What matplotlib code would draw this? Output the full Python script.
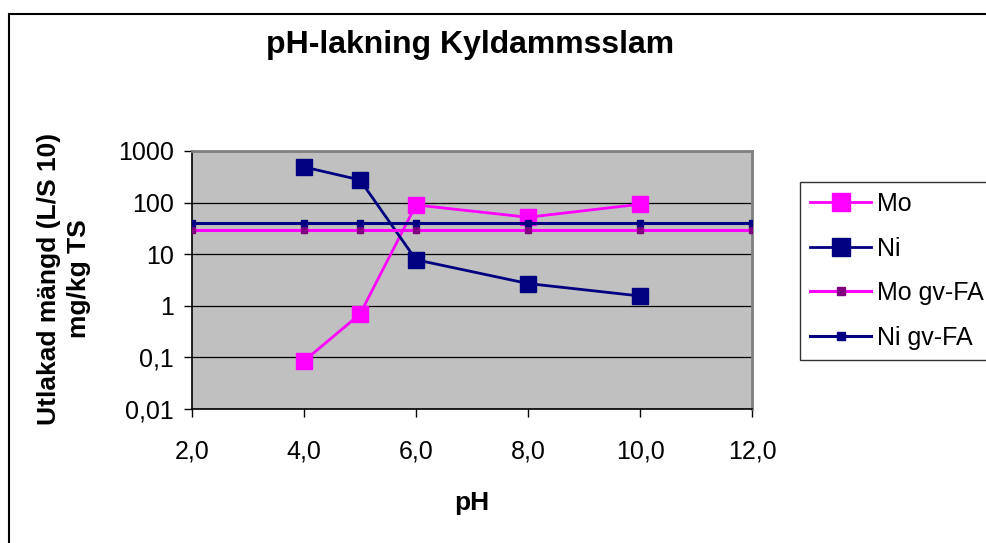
import matplotlib
matplotlib.use("Agg")
import matplotlib.pyplot as plt
from matplotlib.patches import Rectangle
from matplotlib.ticker import FixedLocator, FixedFormatter, NullLocator

plt.rcParams["font.family"] = ["Liberation Sans", "DejaVu Sans"]

# data
ph = [4.0, 5.0, 6.0, 8.0, 10.0]
mo = [0.085, 0.69, 90, 52, 93]
ni = [490, 275, 7.8, 2.7, 1.55]
ph_gv = [2.0, 4.0, 5.0, 6.0, 8.0, 10.0, 12.0]
mo_gv = [30] * len(ph_gv)
ni_gv = [40] * len(ph_gv)

y_ticks = [0.01, 0.1, 1, 10, 100, 1000]
y_labels = ["0,01", "0,1", "1", "10", "100", "1000"]
x_ticks = [2, 4, 6, 8, 10, 12]
x_labels = ["2,0", "4,0", "6,0", "8,0", "10,0", "12,0"]

fig = plt.figure(figsize=(9.86, 5.43), dpi=100)
fig.patch.set_facecolor("white")

# yttre ram runt diagrammet
fig.patches.append(Rectangle((9 / 986, -0.1), 1.2, 1 - 14 / 543 + 0.1,
                             transform=fig.transFigure, fill=False,
                             edgecolor="black", linewidth=1.5))

ax = fig.add_axes([192 / 986, 1 - 409 / 543, 560 / 986, 258 / 543])
ax.set_facecolor("#C0C0C0")

ax.plot(ph, mo, color="#FF00FF", lw=2, marker="s", ms=11,
        markerfacecolor="#FF00FF", markeredgecolor="#FF00FF", label="Mo", zorder=3)
ax.plot(ph, ni, color="#000080", lw=2, marker="s", ms=11,
        markerfacecolor="#000080", markeredgecolor="#000080", label="Ni", zorder=3)
ax.plot(ph_gv, mo_gv, color="#FF00FF", lw=2.2, marker="s", ms=5,
        markerfacecolor="#800080", markeredgecolor="#800080", label="Mo gv-FA", zorder=4)
ax.plot(ph_gv, ni_gv, color="#000080", lw=2.2, marker="s", ms=5,
        markerfacecolor="#000080", markeredgecolor="#000080", label="Ni gv-FA", zorder=4)

ax.set_yscale("log")
ax.set_ylim(0.01, 1000)
ax.set_xlim(2, 12)
ax.yaxis.set_major_locator(FixedLocator(y_ticks))
ax.yaxis.set_major_formatter(FixedFormatter(y_labels))
ax.yaxis.set_minor_locator(NullLocator())
ax.set_xticks(x_ticks)
ax.set_xticklabels(x_labels)
ax.grid(axis="y", color="black", lw=0.9)
ax.set_axisbelow(True)
ax.tick_params(axis="both", labelsize=18, length=6, width=1, direction="out")
ax.tick_params(axis="x", pad=16)
ax.tick_params(axis="y", pad=7)

for side in ["top", "right"]:
    ax.spines[side].set_color("#808080")
    ax.spines[side].set_linewidth(2)
for side in ["left", "bottom"]:
    ax.spines[side].set_color("black")
    ax.spines[side].set_linewidth(1.2)

fig.text(472 / 986, 1 - 503 / 543, "pH", ha="center", va="center",
         fontsize=19, fontweight="bold")
fig.text(64 / 986, 1 - 279 / 543, "Utlakad mängd (L/S 10)\nmg/kg TS", ha="center",
         va="center", rotation=90, fontsize=19, fontweight="bold", linespacing=1.3,
         multialignment="center")

fig.text(470 / 986, 1 - 45 / 543, "pH-lakning Kyldammsslam", ha="center", va="center",
         fontsize=23, fontweight="bold")

leg = fig.legend(loc="upper left", bbox_to_anchor=(800 / 986, 1 - 182 / 543),
                 fontsize=18, frameon=True, fancybox=False, handlelength=2.44,
                 labelspacing=0.82, borderpad=0.4, handletextpad=0.24, borderaxespad=0,
                 markerscale=1.2)
leg.get_frame().set_edgecolor("black")
leg.get_frame().set_linewidth(1.0)

fig.savefig("out.png", dpi=100)
